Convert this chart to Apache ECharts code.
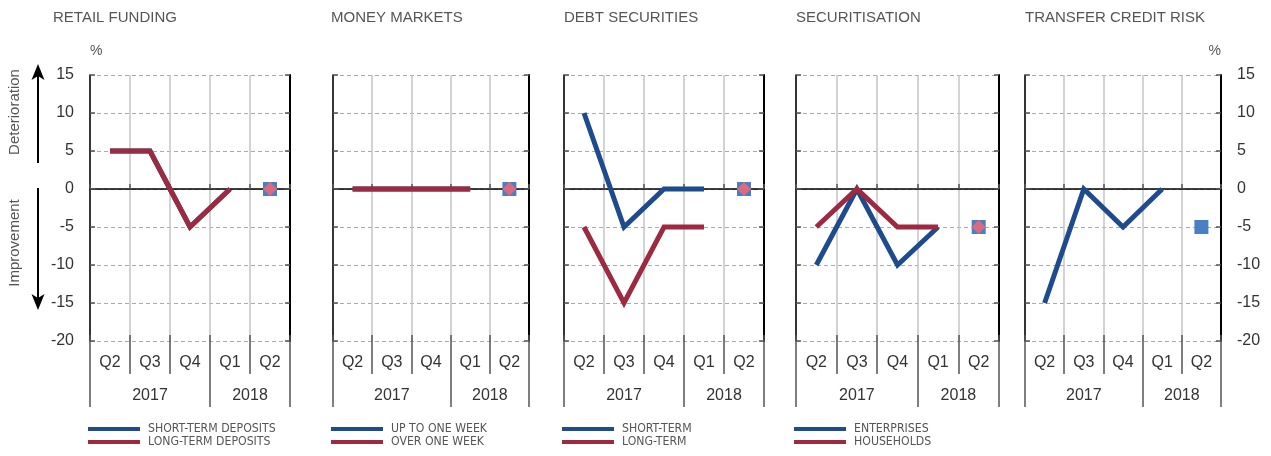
<!DOCTYPE html>
<html>
<head>
<meta charset="utf-8">
<script src="https://cdn.jsdelivr.net/npm/echarts@6/dist/echarts.min.js"></script>
<style>
  html, body { margin: 0; padding: 0; background: #fff; }
  #chart { width: 1271px; height: 456px; }
</style>
</head>
<body>
<div id="chart"></div>
<script>
// categories / tick labels
const quarters = ['Q2', 'Q3', 'Q4', 'Q1', 'Q2'];
const years = ['2017', '2018'];
const yearSpans = [3, 2];
const panelTitles = ['RETAIL FUNDING', 'MONEY MARKETS', 'DEBT SECURITIES', 'SECURITISATION', 'TRANSFER CREDIT RISK'];

// series names (legend)
const retailNames = ['SHORT-TERM DEPOSITS', 'LONG-TERM DEPOSITS'];
const moneyNames = ['UP TO ONE WEEK', 'OVER ONE WEEK'];
const debtNames = ['SHORT-TERM', 'LONG-TERM'];
const securNames = ['ENTERPRISES', 'HOUSEHOLDS'];
const transferNames = ['TRANSFER CREDIT RISK'];

// values, % (last category = expectation, drawn as a marker)
const retailShort = [5, 5, -5, 0, null];
const retailLong = [5, 5, -5, 0, null];
const retailShortExp = [null, null, null, null, 0];
const retailLongExp = [null, null, null, null, 0];

const moneyShort = [0, 0, 0, 0, null];
const moneyLong = [0, 0, 0, 0, null];
const moneyShortExp = [null, null, null, null, 0];
const moneyLongExp = [null, null, null, null, 0];

const debtShort = [10, -5, 0, 0, null];
const debtLong = [-5, -15, -5, -5, null];
const debtShortExp = [null, null, null, null, 0];
const debtLongExp = [null, null, null, null, 0];

const securEnterprises = [-10, 0, -10, -5, null];
const securHouseholds = [-5, 0, -5, -5, null];
const securEnterprisesExp = [null, null, null, null, -5];
const securHouseholdsExp = [null, null, null, null, -5];

const transferRisk = [-15, 0, -5, 0, null];
const transferRiskExp = [null, null, null, null, -5];

// layout
const gridLefts = [90, 333, 564, 796, 1025];
const gridWidths = [200, 196, 200, 203, 196];
const titleLefts = [53, 331, 564, 796, 1025];
const gridTop = 75;
const gridHeight = 266;

const BLUE = '#1d4b8d';
const RED = '#9d2a40';
const MARK_BLUE = '#4a7fc3';
const MARK_PINK = '#da6a80';
const FONT = "'Liberation Sans', Arial, sans-serif";
const NARROW = "'Liberation Sans Narrow', 'DejaVu Sans Condensed', sans-serif";

const panels = [
  { names: retailNames, lines: [retailShort, retailLong], exps: [retailShortExp, retailLongExp] },
  { names: moneyNames, lines: [moneyShort, moneyLong], exps: [moneyShortExp, moneyLongExp] },
  { names: debtNames, lines: [debtShort, debtLong], exps: [debtShortExp, debtLongExp] },
  { names: securNames, lines: [securEnterprises, securHouseholds], exps: [securEnterprisesExp, securHouseholdsExp] },
  { names: transferNames, lines: [transferRisk], exps: [transferRiskExp] }
];

// year boundaries and centres on a 0..5 scale
const yearBounds = [0];
const yearCenters = [];
yearSpans.forEach(s => {
  const start = yearBounds[yearBounds.length - 1];
  yearCenters.push(start + s / 2);
  yearBounds.push(start + s);
});

const tickStyle = { color: '#555', width: 1.5 };
const labelStyle = { fontSize: 16, color: '#333', fontFamily: FONT };

const grid = [], xAxis = [], yAxis = [], series = [], legend = [], title = [];

panels.forEach((p, i) => {
  grid.push({ left: gridLefts[i], width: gridWidths[i], top: gridTop, height: gridHeight });
  title.push({
    text: panelTitles[i], left: titleLefts[i], top: 10, padding: 0,
    textStyle: { fontSize: 15, fontWeight: 'normal', color: '#555', fontFamily: FONT }
  });

  // quarter labels + separators
  xAxis.push({
    type: 'category', gridIndex: i, data: quarters, position: 'bottom',
    axisLine: { show: false, onZero: false },
    axisTick: { show: true, interval: 0, length: 33, lineStyle: tickStyle },
    axisLabel: Object.assign({ interval: 0, margin: 14 }, labelStyle),
    splitLine: { show: true, interval: 0, lineStyle: { color: '#c4c4c4', width: 1.5 } }
  });
  // small inner ticks at the bottom edge
  xAxis.push({
    type: 'category', gridIndex: i, data: quarters, position: 'bottom',
    axisLine: { show: false, onZero: false },
    axisTick: { show: true, inside: true, interval: 0, length: 6, lineStyle: tickStyle },
    axisLabel: { show: false }, splitLine: { show: false }
  });
  // zero line
  xAxis.push({
    type: 'category', gridIndex: i, data: quarters, position: 'bottom',
    axisLine: { show: true, onZero: true, lineStyle: { color: '#000', width: 1.5 } },
    axisTick: { show: true, inside: true, interval: 0, length: 5, lineStyle: tickStyle },
    axisLabel: { show: false }, splitLine: { show: false }
  });
  // year labels + separators
  xAxis.push({
    type: 'value', gridIndex: i, min: 0, max: 5, position: 'bottom',
    axisLine: { show: false, onZero: false },
    axisTick: { show: true, customValues: yearBounds, length: 66, lineStyle: tickStyle },
    axisLabel: Object.assign({
      customValues: yearCenters, margin: 47,
      formatter: v => years[yearCenters.indexOf(v)]
    }, labelStyle),
    splitLine: { show: false }
  });

  const yBase = {
    type: 'value', gridIndex: i, min: -20, max: 15, interval: 5,
    axisTick: { show: true, inside: true, length: 5, lineStyle: tickStyle },
    nameLocation: 'end', nameGap: 17
  };
  yAxis.push(Object.assign({}, yBase, {
    position: 'left',
    axisLine: { show: true, onZero: false, lineStyle: { color: '#000', width: 1.5 } },
    axisLabel: Object.assign({ show: i === 0, margin: 16 }, labelStyle),
    splitLine: { show: true, lineStyle: { color: '#aaa', type: [4, 3], width: 1 } },
    name: i === 0 ? '%' : '',
    nameTextStyle: Object.assign({ align: 'left' }, labelStyle, { fontSize: 14, color: '#555' })
  }));
  yAxis.push(Object.assign({}, yBase, {
    position: 'right',
    axisLine: { show: true, onZero: false, lineStyle: { color: '#000', width: 2 } },
    axisLabel: Object.assign({ show: i === 4, margin: 16 }, labelStyle),
    splitLine: { show: false },
    name: i === 4 ? '%' : '',
    nameTextStyle: Object.assign({ align: 'right' }, labelStyle, { fontSize: 14, color: '#555' })
  }));

  const colors = [BLUE, RED];
  p.lines.forEach((d, k) => {
    series.push({
      type: 'line', name: p.names[k], xAxisIndex: i * 4, yAxisIndex: i * 2,
      data: d, symbol: 'none', z: 3,
      lineStyle: { color: colors[k], width: 5, join: 'miter', cap: 'butt' },
      itemStyle: { color: colors[k] }
    });
  });
  const marks = [{ symbol: 'rect', size: 14, color: MARK_BLUE }, { symbol: 'diamond', size: 14, color: MARK_PINK }];
  p.exps.forEach((d, k) => {
    series.push({
      type: 'scatter', name: 'exp-' + i + '-' + k, xAxisIndex: i * 4, yAxisIndex: i * 2,
      data: d, symbol: marks[k].symbol, symbolSize: marks[k].size, z: 4 + k,
      itemStyle: { color: marks[k].color, opacity: 1 }
    });
  });

  if (i < 4) {
    legend.push({
      orient: 'vertical', left: gridLefts[i] - 2, top: 422.5, padding: 0,
      itemGap: 0, itemWidth: 52, itemHeight: 4, icon: 'rect', selectedMode: false,
      data: p.names,
      textStyle: { fontFamily: NARROW, fontSize: 12.2, lineHeight: 13, color: '#555', padding: [0, 0, 0, 3] }
    });
  }
});

const chart = echarts.init(document.getElementById('chart'));
chart.setOption({
  animation: false,
  backgroundColor: '#fff',
  title: title,
  grid: grid,
  xAxis: xAxis,
  yAxis: yAxis,
  legend: legend,
  series: series,
  graphic: [
    { type: 'line', shape: { x1: 38, y1: 163, x2: 38, y2: 74 }, style: { stroke: '#000', lineWidth: 2 } },
    { type: 'polygon', shape: { points: [[38, 64], [44.5, 80], [38, 76], [31.5, 80]] }, style: { fill: '#000' } },
    { type: 'line', shape: { x1: 38, y1: 188, x2: 38, y2: 300 }, style: { stroke: '#000', lineWidth: 2 } },
    { type: 'polygon', shape: { points: [[38, 310], [44.5, 294], [38, 298], [31.5, 294]] }, style: { fill: '#000' } },
    { type: 'text', x: 15, y: 112, rotation: Math.PI / 2,
      style: { text: 'Deterioration', fontSize: 15, fontFamily: FONT, fill: '#555', align: 'center', verticalAlign: 'middle' } },
    { type: 'text', x: 15, y: 243, rotation: Math.PI / 2,
      style: { text: 'Improvement', fontSize: 15, fontFamily: FONT, fill: '#555', align: 'center', verticalAlign: 'middle' } }
  ]
});
</script>
</body>
</html>
